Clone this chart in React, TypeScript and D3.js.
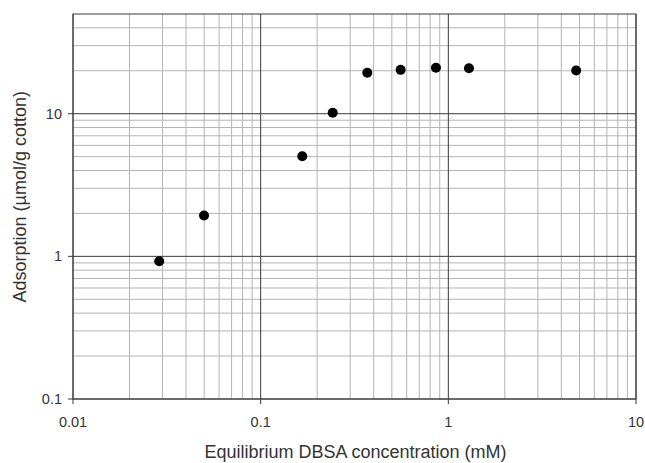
import React from "react";
import * as d3 from "d3";

const concentration = [0.0288, 0.0499, 0.1666, 0.242, 0.37, 0.557, 0.859, 1.288, 4.8];
const adsorption = [0.923, 1.935, 5.03, 10.16, 19.35, 20.3, 20.97, 20.8, 20.1];
const xTicks = [0.01, 0.1, 1, 10];
const yTicks = [0.1, 1, 10];
const xTickLabels = ["0.01", "0.1", "1", "10"];
const yTickLabels = ["0.1", "1", "10"];
const xDomain = [0.01, 10];
const yDomain = [0.1, 50];
const xTitle = "Equilibrium DBSA concentration (mM)";
const yTitle = "Adsorption (\u00b5mol/g cotton)";

const W = 645;
const H = 463;
const left = 73;
const right = 636;
const top = 14;
const bottom = 399;

function minorValues(domain: number[]) {
  const out: number[] = [];
  for (let d = Math.floor(Math.log10(domain[0])); d < Math.ceil(Math.log10(domain[1])); d++) {
    for (let k = 2; k <= 9; k++) {
      const v = k * Math.pow(10, d);
      if (v > domain[0] && v < domain[1]) out.push(v);
    }
  }
  return out;
}

export default function App() {
  const x = d3.scaleLog().domain(xDomain).range([left, right]);
  const y = d3.scaleLog().domain(yDomain).range([bottom, top]);
  const xMinor = minorValues(xDomain);
  const yMinor = minorValues(yDomain);
  const font = "'Liberation Sans', Arial, sans-serif";
  const minorColor = "#b4b4b4";
  const majorColor = "#3a3a3a";
  const textColor = "#333";

  return (
    <svg width={W} height={H} style={{ position: "absolute", left: 0, top: 0, background: "#fff" }}>
      <rect x={0} y={0} width={W} height={H} fill="#fff" />
      {xMinor.map((v, i) => (
        <line key={"xm" + i} x1={x(v)} x2={x(v)} y1={top} y2={bottom} stroke={minorColor} strokeWidth={1} />
      ))}
      {yMinor.map((v, i) => (
        <line key={"ym" + i} x1={left} x2={right} y1={y(v)} y2={y(v)} stroke={minorColor} strokeWidth={1} />
      ))}
      {xTicks.map((v, i) => (
        <line key={"xM" + i} x1={x(v)} x2={x(v)} y1={top} y2={bottom + 5} stroke={majorColor} strokeWidth={1} />
      ))}
      {yTicks.map((v, i) => (
        <line key={"yM" + i} x1={left - 5} x2={right} y1={y(v)} y2={y(v)} stroke={majorColor} strokeWidth={1} />
      ))}
      <rect x={left} y={top} width={right - left} height={bottom - top} fill="none" stroke={majorColor} strokeWidth={1} />
      {xTicks.map((v, i) => (
        <text key={"xl" + i} x={x(v)} y={427} textAnchor="middle" fontFamily={font} fontSize={14.5} fill={textColor}>
          {xTickLabels[i]}
        </text>
      ))}
      {yTicks.map((v, i) => (
        <text key={"yl" + i} x={62} y={y(v)} dy="0.35em" textAnchor="end" fontFamily={font} fontSize={14.5} fill={textColor}>
          {yTickLabels[i]}
        </text>
      ))}
      {concentration.map((c, i) => (
        <circle key={"p" + i} cx={x(c)} cy={y(adsorption[i])} r={5} fill="#000" />
      ))}
      <text x={(left + right) / 2 + 1} y={458} textAnchor="middle" fontFamily={font} fontSize={18} fill={textColor}>
        {xTitle}
      </text>
      <text
        transform={`translate(26, ${(91.7 + 301.7) / 2}) rotate(-90)`}
        textAnchor="middle"
        fontFamily={font}
        fontSize={18}
        fill={textColor}
      >
        {yTitle}
      </text>
    </svg>
  );
}
